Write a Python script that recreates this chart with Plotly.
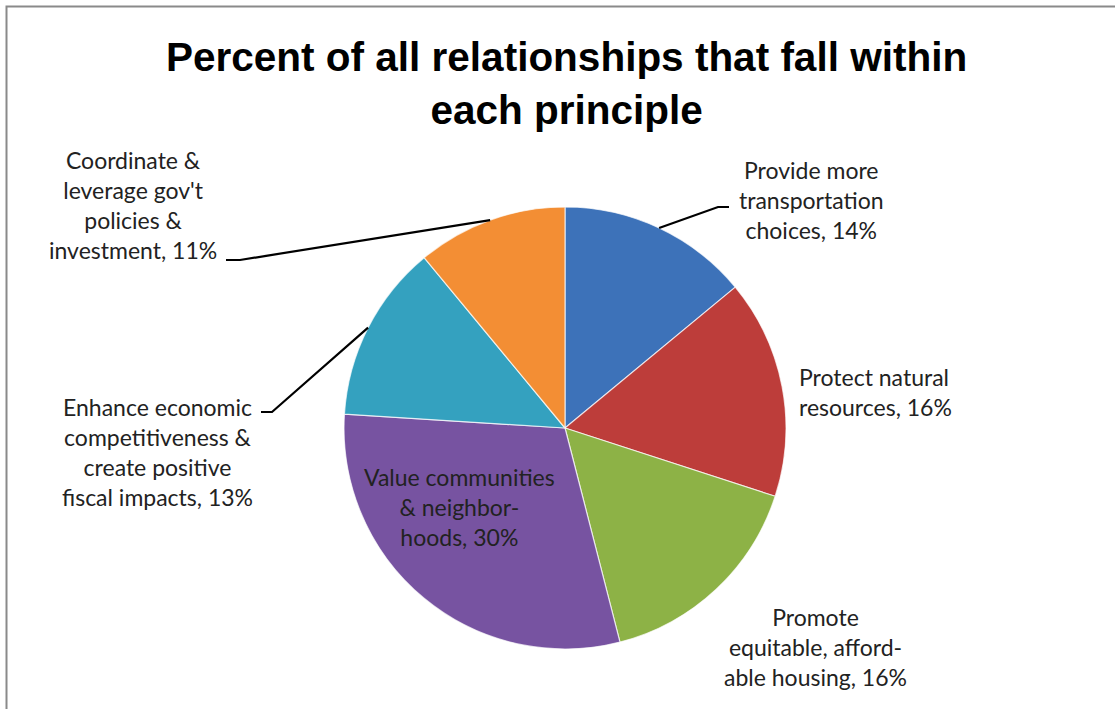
import math
import plotly.graph_objects as go

W, H = 1115, 709

labels = [
    "Provide more transportation choices",
    "Protect natural resources",
    "Promote equitable, affordable housing",
    "Value communities & neighborhoods",
    "Enhance economic competitiveness & create positive fiscal impacts",
    "Coordinate & leverage gov't policies & investment",
]
values = [14, 16, 16, 30, 13, 11]
label_texts = [
    "Provide more<br>transportation<br>choices, 14%",
    "Protect natural<br>resources, 16%",
    "Promote<br>equitable, afford-<br>able housing, 16%",
    "Value communities<br>& neighbor-<br>hoods, 30%",
    "Enhance economic<br>competitiveness &<br>create positive<br>fiscal impacts, 13%",
    "Coordinate &<br>leverage gov't<br>policies &<br>investment, 11%",
]
colors = ["#3D72B9", "#BD3D3A", "#8DB246", "#7753A1", "#34A1BF", "#F38E34"]

# layout (pixels)
CX, CY, R = 565, 428, 221
label_pos = [(811, 200), (797, 392), (815, 647), (459, 507), (157, 452), (133, 205)]
label_align = ["center", "left", "center", "center", "center", "center"]
# leader elbows (pixels): list of points after the pie edge point
leaders = {0: [(718, 207), (729, 207)], 4: [(272, 412), (261, 412)], 5: [(240, 260), (226, 260)]}


def px(x):
    return x / W


def py(y):
    return 1 - y / H


fig = go.Figure(go.Pie(
    labels=labels,
    values=values,
    sort=False,
    direction="clockwise",
    rotation=0,
    textinfo="none",
    hoverinfo="label+percent",
    marker=dict(colors=colors, line=dict(color="rgba(255,255,255,0.7)", width=1.2)),
    domain=dict(x=[px(CX - R), px(CX + R)], y=[py(CY + R), py(CY - R)]),
    showlegend=False,
))

total = sum(values)
cum = 0
shapes = []
for i, v in enumerate(values):
    mid = (cum + v / 2) / total * 2 * math.pi
    cum += v
    if i in leaders:
        ex, ey = CX + R * math.sin(mid), CY - R * math.cos(mid)
        pts = [(ex, ey)] + leaders[i]
        path = "M " + " L ".join(f"{px(x):.5f},{py(y):.5f}" for x, y in pts)
        shapes.append(dict(type="path", xref="paper", yref="paper", path=path,
                           line=dict(color="black", width=2.2)))

shapes.append(dict(type="rect", xref="paper", yref="paper",
                   x0=px(6.5), x1=1.05, y0=-0.05, y1=py(6.5),
                   line=dict(color="#8a8a8a", width=2), fillcolor="rgba(0,0,0,0)"))

annotations = []
for i, t in enumerate(label_texts):
    x, y = label_pos[i]
    annotations.append(dict(
        x=px(x), y=py(y), xref="paper", yref="paper", text=t, showarrow=False,
        xanchor="center" if label_align[i] == "center" else "left",
        yanchor="middle", align=label_align[i],
        font=dict(family="Lato, sans-serif", size=23, color="#222222"),
    ))

annotations.append(dict(
    x=px(566), y=py(83), xref="paper", yref="paper", showarrow=False,
    text="<b>Percent of all relationships that fall within<br>each principle</b>",
    xanchor="center", yanchor="middle", align="center",
    font=dict(family="Liberation Sans, Arial, sans-serif", size=40.5, color="black"),
))

fig.update_layout(
    width=W, height=H,
    margin=dict(l=0, r=0, t=0, b=0),
    paper_bgcolor="white", plot_bgcolor="white",
    shapes=shapes, annotations=annotations,
)

fig.write_html("out.html")
